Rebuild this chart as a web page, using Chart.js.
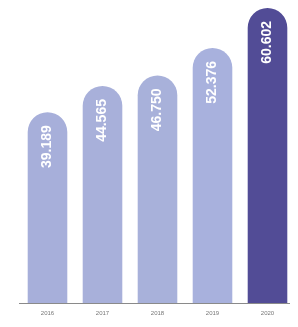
<!DOCTYPE html>
<html><head><meta charset="utf-8">
<script src="https://cdn.jsdelivr.net/npm/chart.js@4"></script>
<style>html,body{margin:0;padding:0;background:#fff;}#wrap{width:298px;height:327px;position:relative;}</style>
</head><body><div id="wrap"><canvas id="c"></canvas></div>
<script>
const categories = ["2016", "2017", "2018", "2019", "2020"];
const values = [39.189, 44.565, 46.750, 52.376, 60.602];
const valueLabels = ["39.189", "44.565", "46.750", "52.376", "60.602"];
const barColors = ["#a7afda", "#a8b0da", "#a8b1da", "#a8b1dd", "#524c96"];

const labelPlugin = {
  id: 'barLabels',
  afterDatasetsDraw(chart) {
    const ctx = chart.ctx;
    const meta = chart.getDatasetMeta(0);
    const xs = chart.scales.x;
    ctx.save();
    ctx.fillStyle = '#ffffff';
    ctx.font = 'bold 14px "Liberation Sans", Arial, sans-serif';
    ctx.textAlign = 'right';
    ctx.textBaseline = 'middle';
    meta.data.forEach((bar, i) => {
      ctx.save();
      ctx.translate(bar.x, bar.y + 13);
      ctx.rotate(-Math.PI / 2);
      ctx.fillText(valueLabels[i], 0, 0);
      ctx.restore();
    });
    const y = chart.scales.y.getPixelForValue(0) + 0.5;
    ctx.strokeStyle = '#8a8a8a';
    ctx.lineWidth = 1;
    ctx.beginPath();
    ctx.moveTo(19, y);
    ctx.lineTo(290, y);
    ctx.stroke();
    ctx.fillStyle = '#777';
    ctx.font = '6px "Liberation Sans", Arial, sans-serif';
    ctx.textAlign = 'center';
    ctx.textBaseline = 'middle';
    categories.forEach((c, i) => {
      ctx.fillText(c, xs.getPixelForValue(i), y + 10);
    });
    ctx.restore();
  }
};

new Chart(document.getElementById('c'), {
  type: 'bar',
  data: {
    labels: categories,
    datasets: [{
      data: values,
      backgroundColor: barColors,
      borderRadius: {topLeft: 20, topRight: 20, bottomLeft: 0, bottomRight: 0},
      borderSkipped: false,
      categoryPercentage: 1,
      barPercentage: 0.72
    }]
  },
  options: {
    responsive: true,
    maintainAspectRatio: false,
    animation: false,
    layout: {padding: {left: 20, right: 3, top: 6, bottom: 24}},
    plugins: {legend: {display: false}, tooltip: {enabled: false}},
    scales: {
      x: {display: false},
      y: {display: false, min: 0, max: 61}
    }
  },
  plugins: [labelPlugin]
});
</script></body></html>
